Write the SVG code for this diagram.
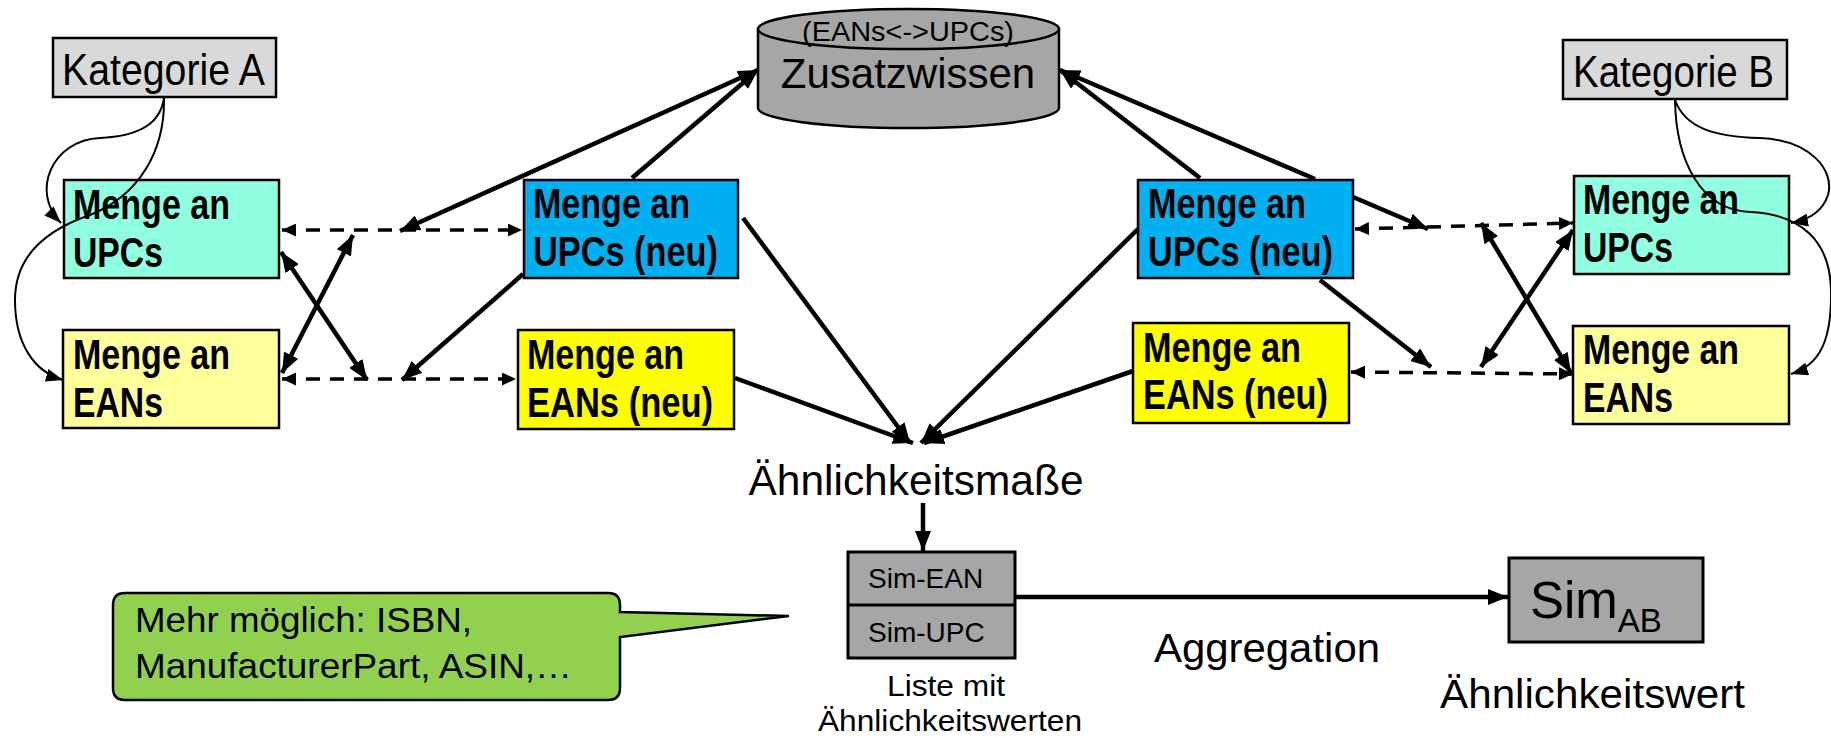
<svg xmlns="http://www.w3.org/2000/svg" width="1831" height="738" viewBox="0 0 1831 738">
  <style>
    .box { stroke: #000; stroke-width: 2.5; }
    .cat { fill: #d9d9d9; }
    .upc { fill: #8fffdf; }
    .ean { fill: #ffff99; }
    .upcn { fill: #00b0f0; }
    .eann { fill: #ffff00; }
    .gray { fill: #a6a6a6; stroke: #000; stroke-width: 3; }
    .t { font-family: "Liberation Sans", Arial, sans-serif; fill: #000; }
    .mb { font-family: "Liberation Sans", Arial, sans-serif; font-weight: bold; font-size: 43px; fill: #000; }
    .thick { stroke: #000; stroke-width: 4.5; fill: none; marker-end: url(#ah); }
    .both { marker-start: url(#ah); }
    .dash { stroke: #000; stroke-width: 3.5; fill: none; stroke-dasharray: 14 10; marker-start: url(#ahd); marker-end: url(#ahd); }
    .curve { stroke: #000; stroke-width: 2; fill: none; marker-end: url(#ahc); }
  </style>
  <defs>
    <marker id="ah" viewBox="0 0 20 16" refX="20" refY="8" markerWidth="20" markerHeight="16" markerUnits="userSpaceOnUse" orient="auto-start-reverse">
      <path d="M0,0 L20,8 L0,16 z" fill="#000"/>
    </marker>
    <marker id="ahd" viewBox="0 0 14 13" refX="14" refY="6.5" markerWidth="14" markerHeight="13" markerUnits="userSpaceOnUse" orient="auto-start-reverse">
      <path d="M0,0 L14,6.5 L0,13 z" fill="#000"/>
    </marker>
    <marker id="ahc" viewBox="0 0 17 13" refX="17" refY="6.5" markerWidth="17" markerHeight="13" markerUnits="userSpaceOnUse" orient="auto">
      <path d="M0,0 L17,6.5 L0,13 z" fill="#000"/>
    </marker>
  </defs>

  <rect width="1831" height="738" fill="#fff"/>

  <!-- Category A and its sets -->
  <g id="kategorie-a">
    <rect class="box cat" x="53" y="38" width="223" height="59"/>
    <text class="t" x="62" y="85" font-size="45" textLength="203" lengthAdjust="spacingAndGlyphs">Kategorie A</text>
  </g>
  <g id="upcs-a">
    <rect class="box upc" x="64" y="180" width="215" height="98"/>
    <text class="mb" x="73" y="219" textLength="157" lengthAdjust="spacingAndGlyphs">Menge an</text>
    <text class="mb" x="73" y="267" textLength="90" lengthAdjust="spacingAndGlyphs">UPCs</text>
  </g>
  <g id="eans-a">
    <rect class="box ean" x="63" y="330" width="216" height="98"/>
    <text class="mb" x="73" y="369" textLength="157" lengthAdjust="spacingAndGlyphs">Menge an</text>
    <text class="mb" x="73" y="417" textLength="90" lengthAdjust="spacingAndGlyphs">EANs</text>
  </g>
  <g id="upcs-a-neu">
    <rect class="box upcn" x="524" y="180" width="214" height="98"/>
    <text class="mb" x="533" y="218" textLength="157" lengthAdjust="spacingAndGlyphs">Menge an</text>
    <text class="mb" x="533" y="266" textLength="185" lengthAdjust="spacingAndGlyphs">UPCs (neu)</text>
  </g>
  <g id="eans-a-neu">
    <rect class="box eann" x="518" y="330" width="216" height="99"/>
    <text class="mb" x="527" y="369" textLength="157" lengthAdjust="spacingAndGlyphs">Menge an</text>
    <text class="mb" x="527" y="417" textLength="186" lengthAdjust="spacingAndGlyphs">EANs (neu)</text>
  </g>

  <!-- Background knowledge store -->
  <g id="zusatzwissen">
    <path d="M758,29 V108 A150.5,20 0 0 0 1059,108 V29 Z" fill="#a6a6a6" stroke="#000" stroke-width="2.5"/>
    <ellipse cx="908.5" cy="29" rx="150.5" ry="20" fill="#a6a6a6" stroke="#000" stroke-width="2.5"/>
    <text class="t" x="908" y="41" font-size="27" text-anchor="middle" textLength="212" lengthAdjust="spacingAndGlyphs">(EANs&lt;-&gt;UPCs)</text>
    <text class="t" x="908" y="88" font-size="42" text-anchor="middle">Zusatzwissen</text>
  </g>

  <!-- Category B and its sets -->
  <g id="upcs-b-neu">
    <rect class="box upcn" x="1138" y="180" width="215" height="98"/>
    <text class="mb" x="1148" y="218" textLength="158" lengthAdjust="spacingAndGlyphs">Menge an</text>
    <text class="mb" x="1148" y="266" textLength="185" lengthAdjust="spacingAndGlyphs">UPCs (neu)</text>
  </g>
  <g id="eans-b-neu">
    <rect class="box eann" x="1133" y="323" width="216" height="100"/>
    <text class="mb" x="1143" y="362" textLength="158" lengthAdjust="spacingAndGlyphs">Menge an</text>
    <text class="mb" x="1143" y="409" textLength="185" lengthAdjust="spacingAndGlyphs">EANs (neu)</text>
  </g>
  <g id="kategorie-b">
    <rect class="box cat" x="1563" y="40" width="224" height="59"/>
    <text class="t" x="1573" y="87" font-size="45" textLength="201" lengthAdjust="spacingAndGlyphs">Kategorie B</text>
  </g>
  <g id="upcs-b">
    <rect class="box upc" x="1574" y="176" width="215" height="98"/>
    <text class="mb" x="1583" y="214" textLength="156" lengthAdjust="spacingAndGlyphs">Menge an</text>
    <text class="mb" x="1583" y="262" textLength="90" lengthAdjust="spacingAndGlyphs">UPCs</text>
  </g>
  <g id="eans-b">
    <rect class="box ean" x="1573" y="326" width="216" height="98"/>
    <text class="mb" x="1583" y="364" textLength="156" lengthAdjust="spacingAndGlyphs">Menge an</text>
    <text class="mb" x="1583" y="412" textLength="90" lengthAdjust="spacingAndGlyphs">EANs</text>
  </g>

  <!-- Similarity measures and result -->
  <g id="aehnlichkeitsmasse">
    <text class="t" x="916" y="495" font-size="43" text-anchor="middle" textLength="335" lengthAdjust="spacingAndGlyphs">Ähnlichkeitsmaße</text>
  </g>
  <g id="sim-liste">
    <rect class="gray" x="848" y="552" width="167" height="106"/>
    <line x1="848" y1="605" x2="1015" y2="605" stroke="#000" stroke-width="3"/>
    <text class="t" x="868" y="588" font-size="28">Sim-EAN</text>
    <text class="t" x="868" y="642" font-size="28">Sim-UPC</text>
    <text class="t" x="946" y="696" font-size="30" text-anchor="middle" textLength="118" lengthAdjust="spacingAndGlyphs">Liste mit</text>
    <text class="t" x="950" y="731" font-size="30" text-anchor="middle" textLength="264" lengthAdjust="spacingAndGlyphs">Ähnlichkeitswerten</text>
  </g>
  <g id="aggregation">
    <text class="t" x="1154" y="662" font-size="41" textLength="226" lengthAdjust="spacingAndGlyphs">Aggregation</text>
  </g>
  <g id="sim-ab">
    <rect class="gray" x="1509" y="558" width="194" height="84"/>
    <text class="t" x="1530" y="618" font-size="51">Sim<tspan font-size="33" dy="14">AB</tspan></text>
    <text class="t" x="1440" y="708" font-size="41" textLength="305" lengthAdjust="spacingAndGlyphs">Ähnlichkeitswert</text>
  </g>

  <!-- Note callout -->
  <g id="hinweis">
    <path d="M125,593 H608 Q620,593 620,605 V612 L789,616 L620,637 V688 Q620,700 608,700 H125 Q113,700 113,688 V605 Q113,593 125,593 Z" fill="#92d050" stroke="#000" stroke-width="2.5"/>
    <text class="t" x="135" y="632" font-size="35" textLength="337" lengthAdjust="spacingAndGlyphs">Mehr möglich: ISBN,</text>
    <text class="t" x="135" y="678" font-size="35" textLength="437" lengthAdjust="spacingAndGlyphs">ManufacturerPart, ASIN,…</text>
  </g>

  <g id="connectors">
    <!-- left side -->
    <line class="dash" x1="282" y1="230" x2="522" y2="230"/>
    <line class="dash" x1="282" y1="379" x2="516" y2="379"/>
    <line class="thick both" x1="400" y1="231" x2="758" y2="70"/>
    <line class="thick" x1="632" y1="178" x2="758" y2="70"/>
    <line class="thick" x1="523" y1="274" x2="402" y2="380"/>
    <line class="thick both" x1="281" y1="252" x2="367" y2="380"/>
    <line class="thick both" x1="282" y1="373" x2="353" y2="235"/>
    <path class="curve" d="M164,98 C160,128 130,137 100,138 C52,140 30,192 61,223"/>
    <path class="curve" d="M164,98 C165,150 140,195 90,215 C40,232 15,260 15,300 C15,345 35,372 63,380"/>
    <!-- into the similarity measures -->
    <line class="thick" x1="743" y1="218" x2="910" y2="443"/>
    <line class="thick" x1="735" y1="378" x2="913" y2="443"/>
    <line class="thick" x1="1138" y1="229" x2="921" y2="443"/>
    <line class="thick" x1="1133" y1="371" x2="924" y2="443"/>
    <line class="thick" x1="923" y1="503" x2="923" y2="551"/>
    <line class="thick" x1="1015" y1="597" x2="1508" y2="597"/>
    <!-- right side -->
    <line class="dash" x1="1355" y1="229" x2="1573" y2="223"/>
    <line class="dash" x1="1351" y1="372" x2="1573" y2="374"/>
    <line class="thick" x1="1200" y1="178" x2="1060" y2="70"/>
    <line class="thick" x1="1315" y1="179" x2="1060" y2="70"/>
    <line class="thick" x1="1353" y1="197" x2="1428" y2="229"/>
    <line class="thick" x1="1320" y1="280" x2="1431" y2="367"/>
    <line class="thick both" x1="1481" y1="223" x2="1571" y2="373"/>
    <line class="thick both" x1="1573" y1="230" x2="1481" y2="367"/>
    <path class="curve" d="M1675,100 C1685,128 1715,137 1760,138 C1810,140 1835,170 1828,195 C1822,213 1808,220 1791,223"/>
    <path class="curve" d="M1675,100 C1676,160 1700,210 1750,212 C1800,214 1830,240 1831,290 C1832,340 1820,365 1791,374"/>
  </g>
</svg>
